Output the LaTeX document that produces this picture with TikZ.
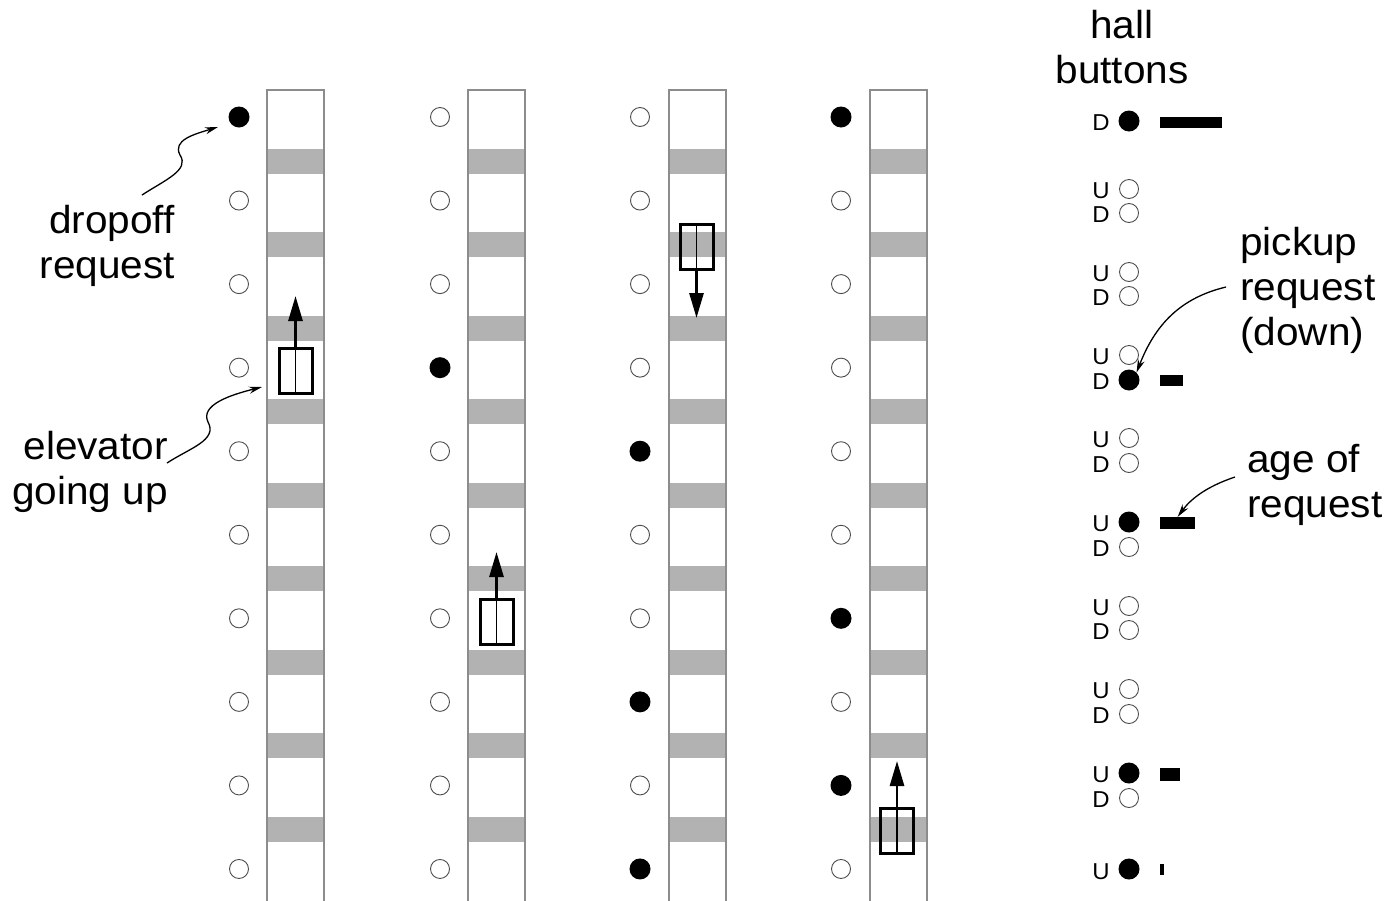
\documentclass[tikz,border=0pt]{standalone}
\usepackage{fontspec}
\setmainfont{Liberation Sans}
\newfontfamily\widesans[FakeStretch=1.04]{Liberation Sans}
\usetikzlibrary{arrows.meta}
\definecolor{bandgray}{gray}{0.70}
\definecolor{linegray}{gray}{0.55}
\begin{document}
\begin{tikzpicture}[x=1pt,y=-1pt,
  band/.style={fill=bandgray},
  shaft/.style={draw=linegray,line width=1.5pt},
  off/.style={circle,draw=black!70,line width=0.9pt,fill=white,minimum size=19pt,inner sep=0pt},
  on/.style={circle,fill=black,minimum size=21pt,inner sep=0pt},
  car/.style={draw=black,line width=3pt,minimum width=33pt,minimum height=45pt,inner sep=0pt},
  carmid/.style={draw=black,line width=1.5pt},
  movearrow/.style={draw=black,line width=2.8pt,-{Triangle[length=25pt,width=14pt]}},
  callout/.style={draw=black,line width=1.3pt,-{Stealth[length=13pt,width=7pt]}},
  bigtext/.style={font=\widesans\fontsize{39}{45}\selectfont,inner sep=0pt},
  udtext/.style={font=\widesans\fontsize{23}{23}\selectfont,inner sep=0pt},
  agebar/.style={fill=black,inner sep=0pt,anchor=west}]
\useasboundingbox (0,0) rectangle (1396,900);
% shafts
\foreach \sx in {267,468,669,870} {
  \foreach \k in {0,...,8} {
    \fill[band] (\sx,{148.5+83.55*\k}) rectangle ++(57,25);
  }
  \draw[shaft] (\sx,902) -- (\sx,90) -- ++(57,0) -- ++(0,812);
}
% floor buttons
\foreach \k/\st in {0/on,1/off,2/off,3/off,4/off,5/off,6/off,7/off,8/off,9/off}
  \node[\st] (a\k) at (239,{117+83.55*\k}) {};
\foreach \k/\st in {0/off,1/off,2/off,3/on,4/off,5/off,6/off,7/off,8/off,9/off}
  \node[\st] (b\k) at (440,{117+83.55*\k}) {};
\foreach \k/\st in {0/off,1/off,2/off,3/off,4/on,5/off,6/off,7/on,8/off,9/on}
  \node[\st] (c\k) at (640,{117+83.55*\k}) {};
\foreach \k/\st in {0/on,1/off,2/off,3/off,4/off,5/off,6/on,7/off,8/on,9/off}
  \node[\st] (d\k) at (841,{117+83.55*\k}) {};
% cars
\node[car] (car1) at (295.5,371) {};
\node[car] (car2) at (496.5,622) {};
\node[car] (car3) at (696.5,247) {};
\node[car] (car4) at (897,831) {};
\foreach \c in {car1,car2,car3,car4}
  \draw[carmid] (\c.north) -- (\c.south);
\coordinate (t1) at (295.5,296);
\coordinate (t2) at (496.5,552);
\coordinate (t3) at (696.5,318);
\coordinate (t4) at (897,761);
\draw[movearrow] (car1.north) -- (t1);
\draw[movearrow] (car2.north) -- (t2);
\draw[movearrow] (car3.south) -- (t3);
\draw[movearrow] (car4.north) -- (t4);
% hall buttons
\node[bigtext,align=center] (hall) at (1122,47) {hall\\buttons};
\node[on] (h0d) at (1129,121) {};
\node[udtext] (l0d) at (1101,123) {D};
\foreach \k/\yu/\yd/\su/\sd in {1/189/213/off/off,2/272/296/off/off,3/355/380/off/on,4/438/463/off/off,5/522/547/on/off,6/606/630/off/off,7/689/714/off/off,8/773/798/on/off} {
  \node[\su] (h\k u) at (1129,\yu) {};
  \node[\sd] (h\k d) at (1129,\yd) {};
  \node[udtext] (l\k u) at (1101,\yu+2) {U};
  \node[udtext] (l\k d) at (1101,\yd+2) {D};
}
\node[on] (h9u) at (1129,869) {};
\node[udtext] (l9u) at (1101,872) {U};
% age bars
\node[agebar,minimum width=62pt,minimum height=11pt] (bar0) at (1160,122) {};
\node[agebar,minimum width=23pt,minimum height=11pt] (bar3) at (1160,380.5) {};
\node[agebar,minimum width=35pt,minimum height=12pt] (bar5) at (1160,523) {};
\node[agebar,minimum width=20pt,minimum height=13pt] (bar8) at (1160,774.5) {};
\node[agebar,minimum width=4pt,minimum height=11pt] (bar9) at (1160,869.5) {};
% labels
\node[bigtext,align=right,anchor=east] (dropoff) at (175,246) {dropoff\\request};
\node[bigtext,align=right,anchor=east] (elev) at (168,472) {elevator\\going up};
\node[bigtext,align=left,anchor=west] (pickup) at (1240,290) {pickup\\request\\(down)};
\node[bigtext,align=left,anchor=west] (age) at (1247,485) {age of\\request};
% callouts
\coordinate (dropstart) at (142,195);
\coordinate (droptip) at (218,127);
\draw[callout] (dropstart) .. controls (165,180) and (190,170) .. (180,155)
  .. controls (172,140) and (195,134) .. (droptip);
\coordinate (elevstart) at (167,463);
\coordinate (elevtip) at (262,387);
\draw[callout] (elevstart) .. controls (190,448) and (218,440) .. (208,422)
  .. controls (200,405) and (230,395) .. (elevtip);
\coordinate (pickstart) at (1226,287);
\draw[callout] (pickstart) .. controls (1180,298) and (1155,325) .. (h3d.north east);
\coordinate (agestart) at (1235,477);
\draw[callout] (agestart) .. controls (1205,487) and (1190,500) .. (bar5.north);
\end{tikzpicture}
\end{document}
